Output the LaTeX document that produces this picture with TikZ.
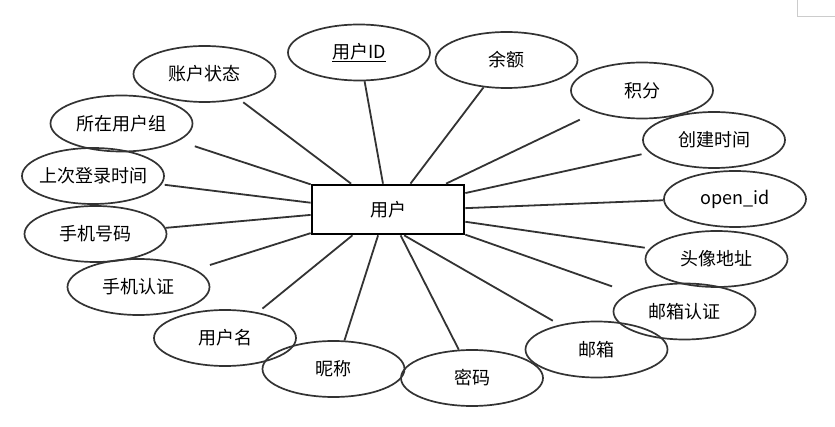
\documentclass[tikz,border=0pt]{standalone}
\usepackage{fontspec}
\setmainfont{Noto Sans CJK SC}
\usetikzlibrary{shapes.geometric}
\begin{document}
\begin{tikzpicture}[x=1pt,y=-1pt,
  attr/.style={ellipse,draw=black!80,line width=1.7pt,minimum width=142pt,minimum height=56pt,inner sep=0pt,font=\fontsize{18}{20}\selectfont},
  ent/.style={rectangle,draw=black,line width=2.7pt,minimum width=152pt,minimum height=49pt,inner sep=0pt,font=\fontsize{18}{20}\selectfont},
  conn/.style={draw=black!80,line width=1.8pt}]
\useasboundingbox (0,0) rectangle (835,427);
\draw[black!20,line width=0.8pt] (797,0) -- (797,16) -- (836,16);
\node[ent] (u) at (388,209.5) {用户};
\node[attr] (zhzt) at (204.5,74) {\makebox[0pt]{账户状态}};
\node[attr] (uid) at (359,52.5) {\makebox[0pt]{\underline{用户ID}}};
\node[attr] (zy) at (121.5,123.5) {\makebox[0pt]{所在用户组}};
\node[attr] (scdl) at (93,176) {\makebox[0pt]{上次登录时间}};
\node[attr] (sjhm) at (95.5,234) {\makebox[0pt]{手机号码}};
\node[attr] (sjrz) at (138.5,287) {\makebox[0pt]{手机认证}};
\node[attr] (yhm) at (225,338) {\makebox[0pt]{用户名}};
\node[attr] (nc) at (333.5,369) {\makebox[0pt]{昵称}};
\node[attr] (mm) at (472,378) {\makebox[0pt]{密码}};
\node[attr] (yx) at (596.5,349.5) {\makebox[0pt]{邮箱}};
\node[attr] (yxrz) at (684.5,311.5) {\makebox[0pt]{邮箱认证}};
\node[attr] (tx) at (716.5,259) {\makebox[0pt]{头像地址}};
\node[attr] (oid) at (735,199) {\makebox[0pt]{open\_id}};
\node[attr] (cjsj) at (714,140) {\makebox[0pt]{创建时间}};
\node[attr] (jf) at (642,90.5) {\makebox[0pt]{积分}};
\node[attr] (ye) at (506.5,60) {\makebox[0pt]{余额}};
\draw[conn,shorten <=5pt] (zhzt.-36.7) -- (u.145);
\draw[conn] (uid.-79.7) -- (u.101.5);
\draw[conn,shorten <=17pt] (zy.-17.7) -- (u.162);
\draw[conn,shorten <=3pt] (scdl.-7.2) -- (u.175.1);
\draw[conn] (sjhm.5.6) -- (u.184.9);
\draw[conn,shorten <=15pt] (sjrz.17.3) -- (u.197.9);
\draw[conn,shorten <=6pt] (yhm.38.9) -- (u.216.6);
\draw[conn] (nc.69.4) -- (u.249.8);
\draw[conn] (mm.115) -- (u.296.1);
\draw[conn,shorten <=8pt] (yx.146.8) -- (u.302.1);
\draw[conn,shorten <=19pt] (yxrz.161.1) -- (u.342);
\draw[conn,shorten <=5pt] (tx.171.3) -- (u.-9.3);
\draw[conn] (oid.181.6) -- (u.1.1);
\draw[conn,shorten <=8pt] (cjsj.191.9) -- (u.12.2);
\draw[conn,shorten <=17pt] (jf.205) -- (u.24.4);
\draw[conn] (ye.230) -- (u.49.4);
\end{tikzpicture}
\end{document}
